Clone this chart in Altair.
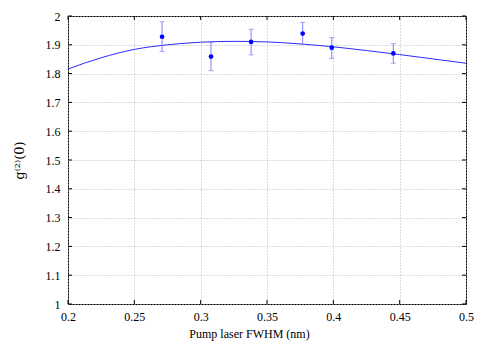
import altair as alt
import pandas as pd

# measured points with error bars
fwhm = [0.2709, 0.3078, 0.3380, 0.3769, 0.3988, 0.4452]
g2 = [1.928, 1.859, 1.910, 1.939, 1.890, 1.870]
g2_hi = [1.980, 1.908, 1.954, 1.978, 1.925, 1.904]
g2_lo = [1.877, 1.810, 1.865, 1.901, 1.853, 1.836]

# fitted curve
fit_x = [0.2, 0.225, 0.25, 0.275, 0.3, 0.325, 0.35, 0.375, 0.4, 0.425, 0.45, 0.475, 0.5]
fit_y = [1.816, 1.855, 1.884, 1.900, 1.909, 1.912, 1.910, 1.903, 1.893, 1.880, 1.866, 1.851, 1.836]

x_ticks = [0.2, 0.25, 0.3, 0.35, 0.4, 0.45, 0.5]
y_ticks = [1.0, 1.1, 1.2, 1.3, 1.4, 1.5, 1.6, 1.7, 1.8, 1.9, 2.0]

W, H = 398, 288
FONT = "Liberation Serif"

pts = pd.DataFrame({"x": fwhm, "y": g2, "hi": g2_hi, "lo": g2_lo})
fit = pd.DataFrame({"x": fit_x, "y": fit_y})
xt = pd.DataFrame({"x": x_ticks})
yt = pd.DataFrame({"y": y_ticks})

xs = alt.Scale(domain=[0.2, 0.5], nice=False, zero=False)
ys = alt.Scale(domain=[1.0, 2.0], nice=False, zero=False)

xaxis = alt.Axis(values=x_ticks, format="~g", title="Pump laser FWHM (nm)",
                 grid=True, ticks=False, domain=False, labelPadding=7,
                 labelFlush=False, labelOverlap=False,
                 titlePadding=6, titleX=181, titleAlign="center")
yaxis = alt.Axis(values=y_ticks, format="~g", title="g⁽²⁾(0)",
                 grid=True, ticks=False, domain=False, labelPadding=8,
                 labelFlush=False, labelOverlap=False,
                 titlePadding=19, titleFont="DejaVu Serif", titleFontSize=13)


def X(field):
    return alt.X(f"{field}:Q", scale=xs, axis=xaxis)


def Y(field):
    return alt.Y(f"{field}:Q", scale=ys, axis=yaxis)


curve = alt.Chart(fit).mark_line(color="#2a2aff", strokeWidth=1, interpolate="monotone").encode(
    x=X("x"), y=Y("y"))

bars = alt.Chart(pts).mark_rule(color="#7f7fff", strokeWidth=1).encode(
    x=X("x"), y=Y("lo"), y2="hi:Q")
cap_hi = alt.Chart(pts).mark_tick(color="#7f7fff", thickness=1, size=5, orient="horizontal").encode(
    x=X("x"), y=Y("hi"))
cap_lo = alt.Chart(pts).mark_tick(color="#7f7fff", thickness=1, size=5, orient="horizontal").encode(
    x=X("x"), y=Y("lo"))

dots = alt.Chart(pts).mark_circle(color="#0000ff", opacity=1, size=22).encode(
    x=X("x"), y=Y("y"))

tk = dict(color="black", strokeWidth=1)
xt_bot = alt.Chart(xt).mark_rule(**tk).encode(x=X("x"), y=alt.value(H), y2=alt.value(H - 4))
xt_top = alt.Chart(xt).mark_rule(**tk).encode(x=X("x"), y=alt.value(0), y2=alt.value(4))
yt_l = alt.Chart(yt).mark_rule(**tk).encode(y=Y("y"), x=alt.value(0), x2=alt.value(4))
yt_r = alt.Chart(yt).mark_rule(**tk).encode(y=Y("y"), x=alt.value(W), x2=alt.value(W - 4))

chart = alt.layer(curve, bars, cap_hi, cap_lo, dots, xt_bot, xt_top, yt_l, yt_r).properties(
    width=W, height=H,
    autosize=alt.AutoSizeParams(type="none"),
    padding={"left": 60, "top": 8, "right": 24, "bottom": 37},
).configure_view(
    stroke="black", strokeWidth=1
).configure_axis(
    labelFont=FONT, titleFont=FONT, labelFontSize=12, titleFontSize=12,
    labelColor="black", titleColor="black", titleFontWeight="normal",
    gridColor="#b8b8b8", gridDash=[1, 2], gridWidth=1
)

chart.save("out.html", embed_options={"renderer": "svg", "actions": False})
